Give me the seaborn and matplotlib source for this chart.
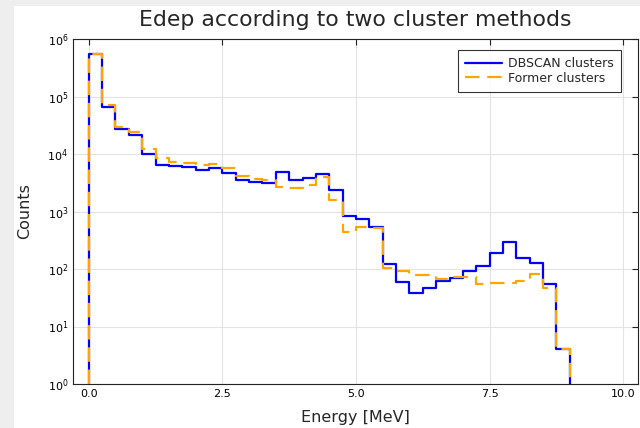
import numpy as np
import pandas as pd
import matplotlib
matplotlib.use("Agg")
import matplotlib.pyplot as plt
from matplotlib.patches import Rectangle
import seaborn as sns

# Histogram data (bin width 0.25 MeV, edges 0 .. 9.0)
bin_edges = [i * 0.25 for i in range(37)]
dbscan_counts = [548000, 66500, 27200, 21100, 10100, 6440, 6110, 6010, 5270, 5710,
                 4730, 3530, 3300, 3170, 4920, 3490, 3780, 4440, 2370, 835,
                 741, 531, 121, 58.7, 38.7, 47.3, 62.6, 70.6, 92.3, 114,
                 188, 295, 157, 126, 54.2, 4.0]
former_counts = [548000, 72000, 29500, 24100, 12400, 8420, 7170, 7060, 6360, 6620,
                 5640, 4200, 3720, 3530, 2700, 2590, 2890, 4030, 1585, 446,
                 544, 523, 104, 93.4, 79.6, 77.6, 67, 71.7, 71.7, 54.8,
                 56.4, 57.8, 61.1, 81.9, 46.1, 4.0]
xticks = [0.0, 2.5, 5.0, 7.5, 10.0]
series_names = ["DBSCAN clusters", "Former clusters"]

sns.set_style("white")
plt.rcParams['font.family'] = ['DejaVu Sans']

fig = plt.figure(figsize=(6.4, 4.28), dpi=100, facecolor="#eeeeee")
bg = Rectangle((14 / 640, 0), 1 - 14 / 640, 1 - 6 / 428,
               transform=fig.transFigure, facecolor="white",
               edgecolor="none", zorder=-10)
fig.add_artist(bg)
ax = fig.add_axes([73 / 640, 1 - 384 / 428, (638 - 73) / 640, (384 - 39) / 428])
ax.set_zorder(5)


def step_frame(edges, counts, baseline=1.0):
    xs = [edges[0]] + list(edges) + [edges[-1]]
    ys = [baseline] + list(counts) + [counts[-1], baseline]
    return pd.DataFrame({"x": xs, "y": ys})


d1 = step_frame(bin_edges, dbscan_counts)
d2 = step_frame(bin_edges, former_counts)

sns.lineplot(data=d1, x="x", y="y", ax=ax, sort=False, estimator=None,
             drawstyle="steps-post", color="#0000ff", linewidth=1.6,
             label=series_names[0])
sns.lineplot(data=d2, x="x", y="y", ax=ax, sort=False, estimator=None,
             drawstyle="steps-post", color="#ffa500", linewidth=1.6,
             label=series_names[1])
ax.lines[-1].set_dashes([6.5, 3.5])

ax.set_yscale("log")
ax.set_ylim(1, 1e6)
ax.set_xlim(-0.294, 10.275)
ax.set_xticks(xticks)
ax.set_xticklabels([f"{t:.1f}" for t in xticks])
ax.yaxis.set_major_locator(matplotlib.ticker.FixedLocator([1, 10, 100, 1e3, 1e4, 1e5, 1e6]))
ax.yaxis.set_minor_locator(matplotlib.ticker.NullLocator())

ax.grid(True, color="#e3e3e3", linewidth=0.8)
ax.set_axisbelow(True)
ax.tick_params(direction="in", length=4, width=0.8, top=True, right=True,
               labelsize=8, colors="#222222", labelcolor="black")
for s in ax.spines.values():
    s.set_color("#222222")
    s.set_linewidth(0.8)

ax.set_xlabel("Energy [MeV]", fontsize=11.5, labelpad=8)
ax.set_ylabel("Counts", fontsize=11.5, labelpad=11)
ax.set_title("Edep according to two cluster methods", fontsize=15.8, pad=9)

leg = ax.legend(loc="upper right", bbox_to_anchor=(0.970, 0.968),
                fontsize=9, frameon=True, fancybox=False,
                edgecolor="black", borderpad=0.55, handlelength=3.0,
                handletextpad=0.5, labelspacing=0.15, borderaxespad=0.0)
leg.get_frame().set_linewidth(0.8)
leg.legend_handles[1].set_dashes([6.5, 3.5])

fig.savefig("out.png", dpi=100, facecolor=fig.get_facecolor())
